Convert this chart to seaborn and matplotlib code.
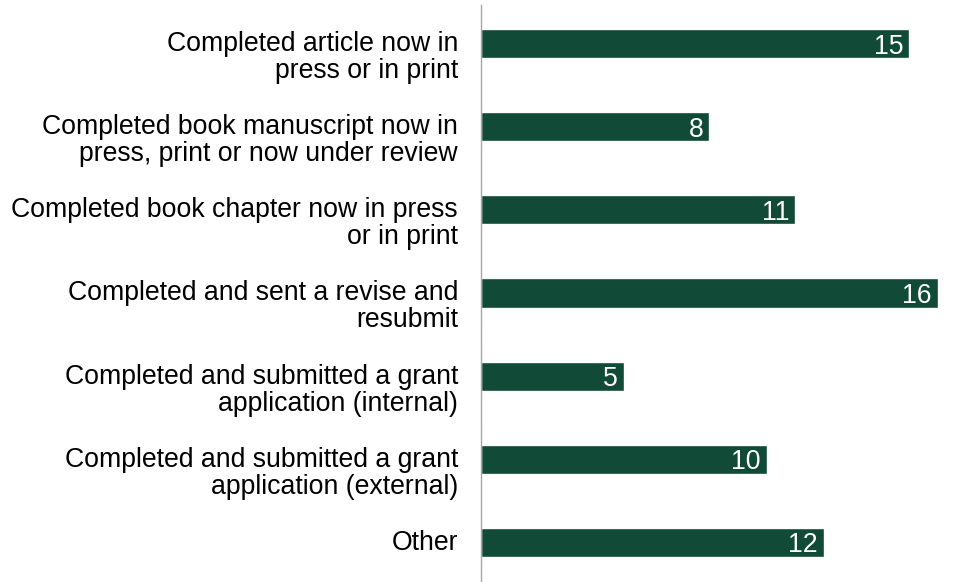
import numpy as np
import pandas as pd
import matplotlib
matplotlib.use("Agg")
import matplotlib.pyplot as plt
import seaborn as sns

categories = [
    "Completed article now in\npress or in print",
    "Completed book manuscript now in\npress, print or now under review",
    "Completed book chapter now in press\nor in print",
    "Completed and sent a revise and\nresubmit",
    "Completed and submitted a grant\napplication (internal)",
    "Completed and submitted a grant\napplication (external)",
    "Other",
]
counts = [15, 8, 11, 16, 5, 10, 12]

bar_color = "#114A36"
bar_height = 0.35
font_size = 19.2
line_step_px = 27

sns.set_theme(style="white")
plt.rcParams["font.family"] = ["Liberation Sans", "DejaVu Sans"]

df = pd.DataFrame({"category": categories, "count": counts})

fig = plt.figure(figsize=(9.54, 5.82), dpi=100)
ax = fig.add_axes([481 / 954, 0.0, (938 - 481) / 954, 1 - 5 / 582])

sns.barplot(data=df, x="count", y="category", orient="h", color=bar_color,
            saturation=1, width=bar_height, ax=ax)

ax.set_xlim(0, 16)
ax.set_ylim(6.475, -0.463)

ax.set_yticks([])
ax.set_xticks([])
ax.set_xlabel("")
ax.set_ylabel("")

for side in ["top", "right", "bottom"]:
    ax.spines[side].set_visible(False)
ax.spines["left"].set_color("#A6A6A6")
ax.spines["left"].set_linewidth(1.0)

# category labels: first line sits level with the top edge of its bar
# (a multi-line "baseline" anchor refers to the last line, so shift per line)
label_trans = ax.get_yaxis_transform()
for i, label in enumerate(categories):
    extra_lines = label.count("\n")
    ax.annotate(label, xy=(0, i - bar_height / 2), xycoords=label_trans,
                xytext=(-23, -22 - line_step_px * extra_lines),
                textcoords="offset pixels",
                ha="right", va="baseline", multialignment="right",
                linespacing=1.05, fontsize=font_size, color="black",
                annotation_clip=False)

# value labels inside the end of each bar
for i, v in enumerate(counts):
    ax.annotate(f"{v}", xy=(v, i), xytext=(-6, -10), textcoords="offset pixels",
                ha="right", va="baseline", color="white", fontsize=font_size)

fig.savefig("out.png", dpi=100, facecolor="white")
